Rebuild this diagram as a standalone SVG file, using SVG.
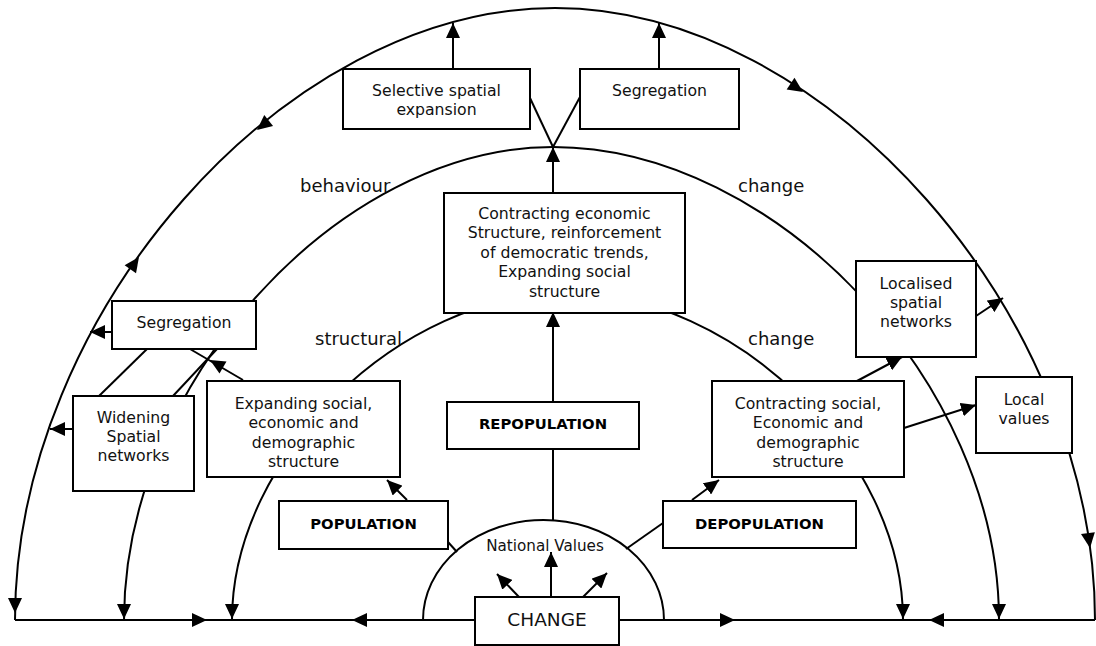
<svg xmlns="http://www.w3.org/2000/svg" xmlns:xlink="http://www.w3.org/1999/xlink" width="1096" height="646" viewBox="0 0 1096 646">
<style>
.box{fill:#fff;stroke:#000;stroke-width:2}
.ln{fill:none;stroke:#000;stroke-width:2}
.t{font-family:"DejaVu Sans",Verdana,sans-serif;font-size:15.7px;text-anchor:middle;fill:#111}
.b{font-family:"DejaVu Sans",Verdana,sans-serif;font-size:14.8px;font-weight:bold;text-anchor:middle;fill:#000}
.lab{font-family:"DejaVu Sans",Verdana,sans-serif;font-size:18px;fill:#111}
.ah{fill:#000}
</style>
<defs>
<marker id="arr" viewBox="0 0 15 14" markerWidth="15" markerHeight="14" refX="15" refY="7" orient="auto" markerUnits="userSpaceOnUse"><path d="M0,0 L15,7 L0,14 Z" fill="#000"/></marker>
<path id="ah" d="M0,0 L-15,-7 L-15,7 Z"/>
</defs>
<rect width="1096" height="646" fill="#fff"/>
<g id="connectors">
<path class="ln" d="M15,620 C15,314 285,8 555,8 C825,8 1095,314 1095,620"/>
<path class="ln" d="M124,620 C124,383.5 338.5,147 553,147 C776,147 999,383.5 999,620"/>
<path class="ln" d="M232,620 C232,456.5 399.75,293 567.5,293 C735.25,293 903,456.5 903,620"/>
<path class="ln" d="M423,620 A120.5,100 0 0 1 664,620"/>
<path class="ln" d="M15,620 L1095,620"/>
<line class="ln" x1="453" y1="69" x2="453" y2="23" marker-end="url(#arr)"/>
<line class="ln" x1="659" y1="69" x2="659" y2="23" marker-end="url(#arr)"/>
<line class="ln" x1="530" y1="98" x2="553" y2="147"/>
<line class="ln" x1="580" y1="97" x2="553" y2="147"/>
<line class="ln" x1="553" y1="193" x2="553" y2="147" marker-end="url(#arr)"/>
<line class="ln" x1="553" y1="402" x2="553" y2="312" marker-end="url(#arr)"/>
<line class="ln" x1="553" y1="449" x2="553" y2="520"/>
<line class="ln" x1="448" y1="542" x2="457" y2="552"/>
<line class="ln" x1="663" y1="523" x2="626" y2="549"/>
<line class="ln" x1="551" y1="597" x2="551" y2="552" marker-end="url(#arr)"/>
<line class="ln" x1="519" y1="597" x2="497" y2="574" marker-end="url(#arr)"/>
<line class="ln" x1="583" y1="597" x2="607" y2="573" marker-end="url(#arr)"/>
<line class="ln" x1="407" y1="500" x2="387" y2="480" marker-end="url(#arr)"/>
<line class="ln" x1="692" y1="500" x2="719" y2="480" marker-end="url(#arr)"/>
<line class="ln" x1="857" y1="381" x2="902" y2="357" marker-end="url(#arr)"/>
<line class="ln" x1="904" y1="428" x2="976" y2="405" marker-end="url(#arr)"/>
<line class="ln" x1="976" y1="316" x2="1003" y2="298" marker-end="url(#arr)"/>
<line class="ln" x1="112" y1="332" x2="90" y2="332" marker-end="url(#arr)"/>
<line class="ln" x1="73" y1="429" x2="50" y2="429" marker-end="url(#arr)"/>
<line class="ln" x1="243" y1="380" x2="190" y2="349"/>
<line class="ln" x1="147" y1="349" x2="99" y2="396"/>
<line class="ln" x1="217" y1="349" x2="173" y2="396"/>
<use href="#ah" class="ah" transform="translate(257,130) rotate(141)"/>
<use href="#ah" class="ah" transform="translate(139,257) rotate(-54.6)"/>
<use href="#ah" class="ah" transform="translate(803,92) rotate(34)"/>
<use href="#ah" class="ah" transform="translate(15,613) rotate(90)"/>
<use href="#ah" class="ah" transform="translate(1090,548) rotate(82)"/>
<use href="#ah" class="ah" transform="translate(207,620)"/>
<use href="#ah" class="ah" transform="translate(352,620) rotate(180)"/>
<use href="#ah" class="ah" transform="translate(735,620)"/>
<use href="#ah" class="ah" transform="translate(929,620) rotate(180)"/>
<use href="#ah" class="ah" transform="translate(124,619) rotate(90)"/>
<use href="#ah" class="ah" transform="translate(232,619) rotate(90)"/>
<use href="#ah" class="ah" transform="translate(903,619) rotate(90)"/>
<use href="#ah" class="ah" transform="translate(999,619) rotate(90)"/>
<use href="#ah" class="ah" transform="translate(210,360) rotate(210)"/>
</g>
<g id="labels">
<text class="lab" x="300" y="192">behaviour</text>
<text class="lab" x="738" y="192">change</text>
<text class="lab" x="315" y="345">structural</text>
<text class="lab" x="748" y="345">change</text>
</g>
<g id="selective">
<rect class="box" x="343" y="69" width="187" height="60"/>
<text class="t" x="436.5" y="95.5">Selective spatial</text>
<text class="t" x="436.5" y="114.5">expansion</text>
</g>
<g id="segregation-top">
<rect class="box" x="580" y="69" width="159" height="60"/>
<text class="t" x="659.5" y="95.5">Segregation</text>
</g>
<g id="contracting-economic">
<rect class="box" x="444" y="193" width="241" height="120"/>
<text class="t" x="564.5" y="218.5">Contracting economic</text>
<text class="t" x="564.5" y="238">Structure, reinforcement</text>
<text class="t" x="564.5" y="257.5">of democratic trends,</text>
<text class="t" x="564.5" y="277">Expanding social</text>
<text class="t" x="564.5" y="296.5">structure</text>
</g>
<g id="segregation-left">
<rect class="box" x="112" y="301" width="144" height="48"/>
<text class="t" x="184" y="327.5">Segregation</text>
</g>
<g id="widening">
<rect class="box" x="73" y="396" width="121" height="95"/>
<text class="t" x="133.5" y="422.5">Widening</text>
<text class="t" x="133.5" y="441.5">Spatial</text>
<text class="t" x="133.5" y="461">networks</text>
</g>
<g id="expanding">
<rect class="box" x="207" y="381" width="193" height="96"/>
<text class="t" x="303.5" y="408.5">Expanding social,</text>
<text class="t" x="303.5" y="428">economic and</text>
<text class="t" x="303.5" y="447.5">demographic</text>
<text class="t" x="303.5" y="467">structure</text>
</g>
<g id="repopulation">
<rect class="box" x="447" y="402" width="192" height="47"/>
<text class="b" x="543" y="428.5">REPOPULATION</text>
</g>
<g id="population">
<rect class="box" x="279" y="501" width="169" height="48"/>
<text class="b" x="363.5" y="528.5">POPULATION</text>
</g>
<g id="depopulation">
<rect class="box" x="663" y="501" width="193" height="47"/>
<text class="b" x="759.5" y="528.5">DEPOPULATION</text>
</g>
<g id="contracting-social">
<rect class="box" x="712" y="381" width="192" height="96"/>
<text class="t" x="808" y="408.5">Contracting social,</text>
<text class="t" x="808" y="428">Economic and</text>
<text class="t" x="808" y="447.5">demographic</text>
<text class="t" x="808" y="467">structure</text>
</g>
<g id="localised">
<rect class="box" x="856" y="261" width="120" height="96"/>
<text class="t" x="916" y="288.5">Localised</text>
<text class="t" x="916" y="307.5">spatial</text>
<text class="t" x="916" y="326.5">networks</text>
</g>
<g id="local-values">
<rect class="box" x="976" y="377" width="96" height="76"/>
<text class="t" x="1024" y="404.5">Local</text>
<text class="t" x="1024" y="423.5">values</text>
</g>
<g id="national-values">
<text class="t" x="545" y="551" style="font-size:15.2px">National Values</text>
</g>
<g id="change">
<rect class="box" x="475" y="597" width="144" height="48"/>
<text class="t" x="547" y="626" style="font-size:18.5px">CHANGE</text>
</g>
</svg>
